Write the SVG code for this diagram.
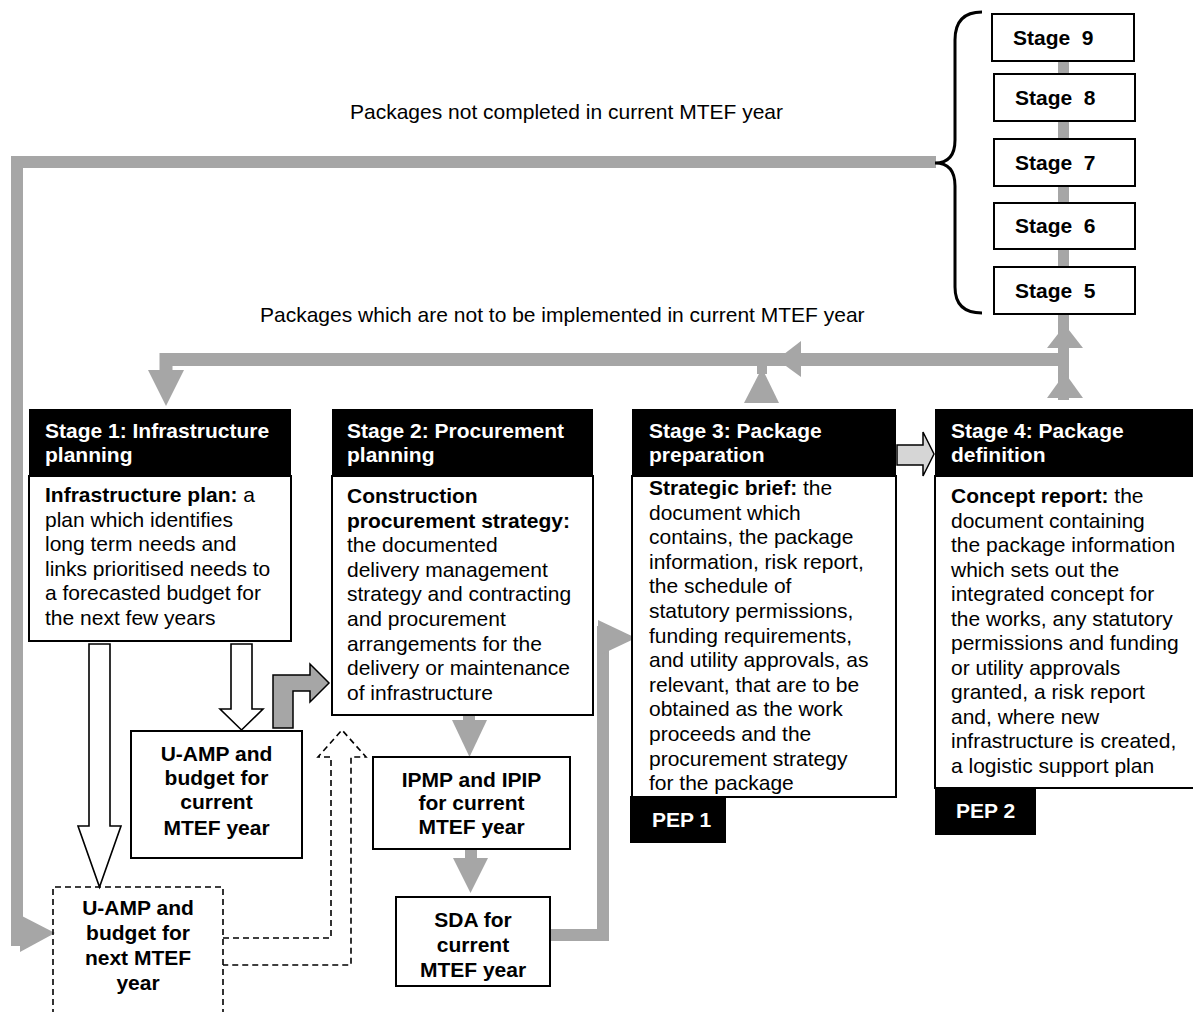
<svg xmlns="http://www.w3.org/2000/svg" width="1193" height="1012" viewBox="0 0 1193 1012">
  <style>
    text { font-family: "Liberation Sans", Arial, sans-serif; font-size: 21px; fill: #000; white-space: pre; }
    .b { font-weight: bold; }
    .w { fill: #fff; font-weight: bold; }
    .c { text-anchor: middle; font-weight: bold; }
    .box { fill: #fff; stroke: #000; stroke-width: 2; }
    .hdr { fill: #000; }
    .dash { fill: none; stroke: #000; stroke-width: 1.6; stroke-dasharray: 6 4; }
    .flow { fill: none; stroke: #a6a6a6; }
    .gray { fill: #a6a6a6; }
    .hollow { fill: #fff; stroke: #000; stroke-width: 1.6; stroke-linejoin: miter; }
  </style>

  <!-- connectors -->
  <g id="connectors">
    <!-- spine linking stages 5 to 9 -->
    <rect class="gray" x="1058" y="60" width="11" height="210"/>
    <!-- loop back for packages not completed -->
    <polyline class="flow" stroke-width="12" points="936,162 17,162 17,946"/>
    <polygon class="gray" points="20,915 55,933 20,952"/>
    <!-- loop back for packages not implemented -->
    <polyline class="flow" stroke-width="13" points="1069,359.5 166,359.5 166,372"/>
    <polygon class="gray" points="148,370 184,370 166,406"/>
    <polygon class="gray" points="801,341 777,359.5 801,377"/>
    <!-- stage 3 up to the loop -->
    <rect class="gray" x="757" y="364" width="10" height="10"/>
    <polygon class="gray" points="744,403 779,403 762,368"/>
    <!-- stage 4 up to stage 5 -->
    <rect class="gray" x="1058" y="312" width="11" height="88"/>
    <polygon class="gray" points="1047,348 1083,348 1065,325"/>
    <polygon class="gray" points="1047,398 1083,398 1065,373"/>
    <!-- stage 3 to stage 4 -->
    <path d="M897,445 H923 V432 L934,454 L923,476 V465 H897 Z" fill="#d6d6d6" stroke="#000" stroke-width="1.5"/>
    <!-- stage 1 down arrows -->
    <path class="hollow" d="M89,644 H110 V826 H121 L99.5,887 L78,826 H89 Z"/>
    <path class="hollow" d="M231,644 H252 V709 H263 L241.5,730 L220,709 H231 Z"/>
    <!-- U-AMP to stage 2 bent arrow -->
    <path d="M273,728 V675 H310 V664 L329,683 L310,702 V691 H293 V728 Z" fill="#a6a6a6" stroke="#000" stroke-width="1.5"/>
    <!-- dashed feedback arrow -->
    <path class="dash" d="M223,938 H331 V757 H318 L342,730 L366,757 H351 V965 H223"/>
    <!-- stage 2 to IPMP, IPMP to SDA -->
    <rect class="gray" x="463" y="714" width="12" height="8"/>
    <polygon class="gray" points="452,720 487,720 469.5,757"/>
    <rect class="gray" x="465" y="848" width="12" height="12"/>
    <polygon class="gray" points="453,858 488,858 470.5,893"/>
    <!-- SDA to stage 3 -->
    <polyline class="flow" stroke-width="12" points="550,935 603,935 603,626"/>
    <polygon class="gray" points="598,620 636,638 598,656"/>
    <!-- brace grouping stages 5 to 9 -->
    <path d="M982,12 Q955,12 955,40 V140 Q955,163 935,163 Q955,163 955,186 V287 Q955,313 982,313" fill="none" stroke="#000" stroke-width="3"/>
  </g>

  <!-- loop labels -->
  <text x="350" y="119">Packages not completed in current MTEF year</text>
  <text x="260" y="322">Packages which are not to be implemented in current MTEF year</text>

  <!-- stages 5 to 9 -->
  <g id="stage9"><rect class="box" x="992" y="14" width="142" height="47"/><text class="b" x="1013" y="45">Stage  9</text></g>
  <g id="stage8"><rect class="box" x="994" y="74" width="141" height="47"/><text class="b" x="1015" y="105">Stage  8</text></g>
  <g id="stage7"><rect class="box" x="994" y="139" width="141" height="47"/><text class="b" x="1015" y="170">Stage  7</text></g>
  <g id="stage6"><rect class="box" x="994" y="203" width="141" height="46"/><text class="b" x="1015" y="233">Stage  6</text></g>
  <g id="stage5"><rect class="box" x="994" y="267" width="141" height="47"/><text class="b" x="1015" y="298">Stage  5</text></g>

  <!-- stage 1 -->
  <g id="stage1">
    <rect class="box" x="29" y="476" width="262" height="165"/>
    <rect class="hdr" x="29" y="409" width="262" height="67"/>
    <text class="w" x="45" y="438">Stage 1: Infrastructure</text>
    <text class="w" x="45" y="462">planning</text>
    <text x="45" y="502"><tspan class="b">Infrastructure plan:</tspan> a</text>
    <text x="45" y="526.5">plan which identifies</text>
    <text x="45" y="551">long term needs and</text>
    <text x="45" y="575.5">links prioritised needs to</text>
    <text x="45" y="600">a forecasted budget for</text>
    <text x="45" y="624.5">the next few years</text>
  </g>

  <!-- stage 2 -->
  <g id="stage2">
    <rect class="box" x="332" y="476" width="261" height="239"/>
    <rect class="hdr" x="332" y="409" width="261" height="67"/>
    <text class="w" x="347" y="438">Stage 2: Procurement</text>
    <text class="w" x="347" y="462">planning</text>
    <text class="b" x="347" y="503">Construction</text>
    <text class="b" x="347" y="527.6">procurement strategy:</text>
    <text x="347" y="552.2">the documented</text>
    <text x="347" y="576.8">delivery management</text>
    <text x="347" y="601.4">strategy and contracting</text>
    <text x="347" y="626">and procurement</text>
    <text x="347" y="650.6">arrangements for the</text>
    <text x="347" y="675.2">delivery or maintenance</text>
    <text x="347" y="699.8">of infrastructure</text>
  </g>

  <!-- stage 3 -->
  <g id="stage3">
    <rect class="box" x="632" y="476" width="264" height="321"/>
    <rect class="hdr" x="632" y="409" width="264" height="67"/>
    <text class="w" x="649" y="438">Stage 3: Package</text>
    <text class="w" x="649" y="462">preparation</text>
    <text x="649" y="495"><tspan class="b">Strategic brief:</tspan> the</text>
    <text x="649" y="519.6">document which</text>
    <text x="649" y="544.2">contains, the package</text>
    <text x="649" y="568.8">information, risk report,</text>
    <text x="649" y="593.4">the schedule of</text>
    <text x="649" y="618">statutory permissions,</text>
    <text x="649" y="642.6">funding requirements,</text>
    <text x="649" y="667.2">and utility approvals, as</text>
    <text x="649" y="691.8">relevant, that are to be</text>
    <text x="649" y="716.4">obtained as the work</text>
    <text x="649" y="741">proceeds and the</text>
    <text x="649" y="765.6">procurement strategy</text>
    <text x="649" y="790.2">for the package</text>
  </g>
  <g id="pep1">
    <rect class="hdr" x="630" y="796" width="96" height="47"/>
    <text class="w" x="652" y="827">PEP 1</text>
  </g>

  <!-- stage 4 -->
  <g id="stage4">
    <rect class="box" x="935" y="476" width="270" height="312"/>
    <rect class="hdr" x="935" y="409" width="270" height="67"/>
    <text class="w" x="951" y="438">Stage 4: Package</text>
    <text class="w" x="951" y="462">definition</text>
    <text x="951" y="503"><tspan class="b">Concept report:</tspan> the</text>
    <text x="951" y="527.5">document containing</text>
    <text x="951" y="552">the package information</text>
    <text x="951" y="576.5">which sets out the</text>
    <text x="951" y="601">integrated concept for</text>
    <text x="951" y="625.5">the works, any statutory</text>
    <text x="951" y="650">permissions and funding</text>
    <text x="951" y="674.5">or utility approvals</text>
    <text x="951" y="699">granted, a risk report</text>
    <text x="951" y="723.5">and, where new</text>
    <text x="951" y="748">infrastructure is created,</text>
    <text x="951" y="772.5">a logistic support plan</text>
  </g>
  <g id="pep2">
    <rect class="hdr" x="935" y="788" width="101" height="47"/>
    <text class="w" x="956" y="818">PEP 2</text>
  </g>

  <!-- budget and delivery documents -->
  <g id="uamp-current">
    <rect class="box" x="131" y="731" width="171" height="127"/>
    <text class="c" x="216.5" y="761">U-AMP and</text>
    <text class="c" x="216.5" y="785">budget for</text>
    <text class="c" x="216.5" y="809">current</text>
    <text class="c" x="216.5" y="835">MTEF year</text>
  </g>
  <g id="uamp-next">
    <path class="dash" d="M53,1015 V887 H223 V1015"/>
    <text class="c" x="138" y="915">U-AMP and</text>
    <text class="c" x="138" y="940">budget for</text>
    <text class="c" x="138" y="965">next MTEF</text>
    <text class="c" x="138" y="990">year</text>
  </g>
  <g id="ipmp">
    <rect class="box" x="373" y="757" width="197" height="92"/>
    <text class="c" x="471.5" y="787">IPMP and IPIP</text>
    <text class="c" x="471.5" y="810">for current</text>
    <text class="c" x="471.5" y="834">MTEF year</text>
  </g>
  <g id="sda">
    <rect class="box" x="396" y="897" width="154" height="89"/>
    <text class="c" x="473" y="927">SDA for</text>
    <text class="c" x="473" y="952">current</text>
    <text class="c" x="473" y="977">MTEF year</text>
  </g>
</svg>
